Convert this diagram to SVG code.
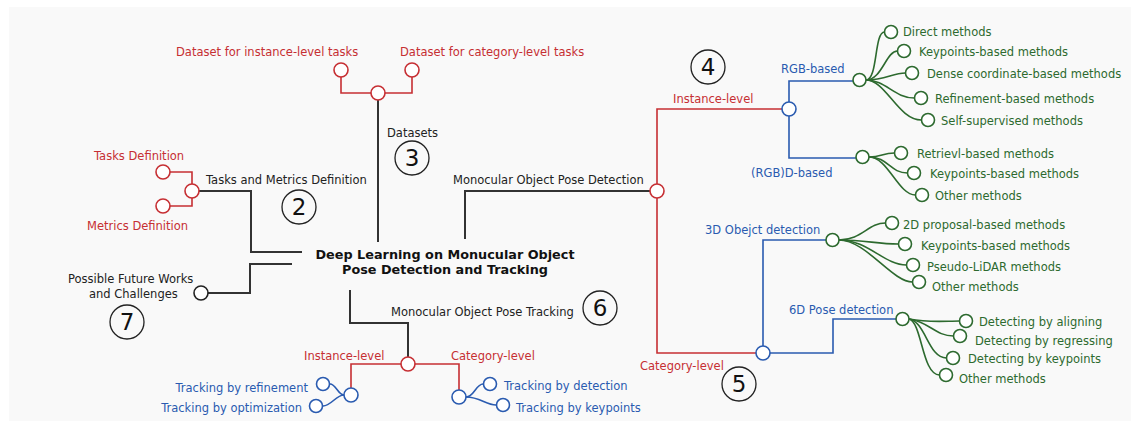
<svg xmlns="http://www.w3.org/2000/svg" width="1136" height="427" viewBox="0 0 1136 427">
<defs>
<style>
text{font-family:"DejaVu Sans","Liberation Sans",sans-serif;font-size:11.5px}
.k{fill:#222}.r{fill:#c62f33}.b{fill:#2a5bb0}.g{fill:#2d6a2f}
.title{font-weight:bold;font-size:12.8px;fill:#111;text-anchor:middle}
.num{font-size:23px;fill:#111;text-anchor:middle}
.nc{fill:none;stroke:#222;stroke-width:1.3}
.n{fill:#fff;stroke-width:1.6}
.nr{stroke:#c62f33}.nb{stroke:#2a5bb0}.ng{stroke:#2d6a2f}.nk{stroke:#222}
.lk{fill:none;stroke:#333;stroke-width:2}
.lr{fill:none;stroke:#c62f33;stroke-width:1.6}
.lb{fill:none;stroke:#2a5bb0;stroke-width:1.6}
.lg{fill:none;stroke:#2d6a2f;stroke-width:1.6}
.end{text-anchor:end}
</style>
</defs>
<rect x="9" y="7" width="1122" height="414" fill="#f9f9f9"/>

<g id="connectors">
<path class="lk" d="M378 242 V100"/>
<path class="lk" d="M199 191 H251 V252 H302"/>
<path class="lk" d="M208 293 H250 V264 H292"/>
<path class="lk" d="M465 239 V191 H650"/>
<path class="lk" d="M350 290 V323 H408 V357"/>
<path class="lr" d="M341 77 V93 H371 M385 93 H412 V77"/>
<path class="lr" d="M170 172 H192 V184 M192 198 V206 H170"/>
<path class="lr" d="M657 184 V109 H782"/>
<path class="lr" d="M657 198 V353 H756"/>
<path class="lb" d="M789 102 V81 H853"/>
<path class="lb" d="M789 116 V158 H856"/>
<path class="lb" d="M763 346 V240 H826"/>
<path class="lb" d="M770 353 H833 V319 H896"/>
<path class="lg" d="M866 80 C878 80 874 32 884.5 32"/>
<path class="lg" d="M866 80 C882 80 886 51 897.5 51"/>
<path class="lg" d="M866 80 C886 80 892 73 905.5 73"/>
<path class="lg" d="M866 80 C886 80 894 98 914.5 98"/>
<path class="lg" d="M866 80 C886 80 898 120 921.5 120"/>
<path class="lg" d="M869 157 C882 157 882 153 894.5 153"/>
<path class="lg" d="M869 157 C888 157 890 173 907.5 173"/>
<path class="lg" d="M869 157 C888 157 898 195 915.5 195"/>
<path class="lg" d="M839 240 C862 240 868 223 885.5 223"/>
<path class="lg" d="M839 240 C866 240 876 244 898.5 244"/>
<path class="lg" d="M839 240 C868 240 884 265 906.5 265"/>
<path class="lg" d="M839 240 C866 240 892 282 912.5 282"/>
<path class="lg" d="M909 319 C930 323 945 321 959.5 321"/>
<path class="lg" d="M909 319 C930 322 935 336 953.5 336"/>
<path class="lg" d="M909 319 C926 322 928 358 946.5 358"/>
<path class="lg" d="M909 319 C922 322 922 375 939.5 375"/>
<path class="lr" d="M401 364 H351 V388"/>
<path class="lr" d="M415 364 H459 V390"/>
<path class="lb" d="M344 395 C338 395 336 384 330 384"/>
<path class="lb" d="M344 395 C336 395 331 406 323 406"/>
<path class="lb" d="M466 397 C474 397 476 384 483 384"/>
<path class="lb" d="M466 397 C480 397 486 405 496 405"/>
</g>

<g id="root">
<text class="title" x="445" y="259">Deep Learning on Monucular Object</text>
<text class="title" x="445" y="274">Pose Detection and Tracking</text>
</g>

<g id="datasets">
<circle class="n nr" cx="378" cy="93" r="7"/>
<text class="k" x="387" y="137">Datasets</text>
<circle class="nc" cx="412" cy="158" r="17"/><text class="num" x="412" y="166">3</text>
</g>
<g id="ds-instance">
<circle class="n nr" cx="341" cy="70" r="7"/>
<text class="r" x="176" y="56">Dataset for instance-level tasks</text>
</g>
<g id="ds-category">
<circle class="n nr" cx="412" cy="70" r="7"/>
<text class="r" x="400" y="56">Dataset for category-level tasks</text>
</g>

<g id="tasks-metrics">
<circle class="n nr" cx="192" cy="191" r="7"/>
<text class="k" x="206" y="184">Tasks and Metrics Definition</text>
<circle class="nc" cx="299" cy="207" r="17"/><text class="num" x="299" y="215">2</text>
</g>
<g id="tasks-def">
<circle class="n nr" cx="163" cy="172" r="7"/>
<text class="r" x="94" y="160">Tasks Definition</text>
</g>
<g id="metrics-def">
<circle class="n nr" cx="163" cy="206" r="7"/>
<text class="r" x="87" y="230">Metrics Definition</text>
</g>

<g id="future">
<circle class="n nk" cx="201" cy="293" r="7"/>
<text class="k" x="68" y="283">Possible Future Works</text>
<text class="k" x="89" y="298">and Challenges</text>
<circle class="nc" cx="127" cy="322" r="17"/><text class="num" x="127" y="330">7</text>
</g>

<g id="detection">
<circle class="n nr" cx="657" cy="191" r="7"/>
<text class="k" x="453" y="184">Monocular Object Pose Detection</text>
</g>
<g id="det-instance">
<circle class="n nb" cx="789" cy="109" r="7"/>
<text class="r" x="673" y="103">Instance-level</text>
<circle class="nc" cx="708" cy="67" r="17"/><text class="num" x="708" y="75">4</text>
</g>
<g id="rgb">
<circle class="n ng" cx="859.5" cy="80" r="6.5"/>
<text class="b" x="781" y="73">RGB-based</text>
</g>
<g id="rgb-leaves">
<circle class="n ng" cx="891" cy="32" r="6.5"/><text class="g" x="903" y="36">Direct methods</text>
<circle class="n ng" cx="904" cy="51" r="6.5"/><text class="g" x="919" y="56">Keypoints-based methods</text>
<circle class="n ng" cx="912" cy="73" r="6.5"/><text class="g" x="927" y="78">Dense coordinate-based methods</text>
<circle class="n ng" cx="921" cy="98" r="6.5"/><text class="g" x="935" y="103">Refinement-based methods</text>
<circle class="n ng" cx="928" cy="120" r="6.5"/><text class="g" x="941" y="125">Self-supervised methods</text>
</g>
<g id="rgbd">
<circle class="n ng" cx="862.5" cy="157" r="6.5"/>
<text class="b" x="751" y="177">(RGB)D-based</text>
</g>
<g id="rgbd-leaves">
<circle class="n ng" cx="901" cy="153" r="6.5"/><text class="g" x="917" y="158">Retrievl-based methods</text>
<circle class="n ng" cx="914" cy="173" r="6.5"/><text class="g" x="930" y="178">Keypoints-based methods</text>
<circle class="n ng" cx="922" cy="195" r="6.5"/><text class="g" x="935" y="200">Other methods</text>
</g>

<g id="det-category">
<circle class="n nb" cx="763" cy="353" r="7"/>
<text class="r" x="640" y="370">Category-level</text>
<circle class="nc" cx="739" cy="384" r="17"/><text class="num" x="739" y="392">5</text>
</g>
<g id="obj3d">
<circle class="n ng" cx="832.5" cy="240" r="6.5"/>
<text class="b" x="705" y="234">3D Obejct detection</text>
</g>
<g id="obj3d-leaves">
<circle class="n ng" cx="892" cy="223" r="6.5"/><text class="g" x="903" y="229">2D proposal-based methods</text>
<circle class="n ng" cx="905" cy="244" r="6.5"/><text class="g" x="921" y="250">Keypoints-based methods</text>
<circle class="n ng" cx="913" cy="265" r="6.5"/><text class="g" x="927" y="271">Pseudo-LiDAR methods</text>
<circle class="n ng" cx="919" cy="282" r="6.5"/><text class="g" x="932" y="291">Other methods</text>
</g>
<g id="pose6d">
<circle class="n ng" cx="902.5" cy="319" r="6.5"/>
<text class="b" x="789" y="314">6D Pose detection</text>
</g>
<g id="pose6d-leaves">
<circle class="n ng" cx="966" cy="321" r="6.5"/><text class="g" x="979" y="326">Detecting by aligning</text>
<circle class="n ng" cx="960" cy="336" r="6.5"/><text class="g" x="975" y="345">Detecting by regressing</text>
<circle class="n ng" cx="953" cy="358" r="6.5"/><text class="g" x="968" y="363">Detecting by keypoints</text>
<circle class="n ng" cx="946" cy="375" r="6.5"/><text class="g" x="959" y="383">Other methods</text>
</g>

<g id="tracking">
<circle class="n nr" cx="408" cy="364" r="7"/>
<text class="k" x="391" y="316">Monocular Object Pose Tracking</text>
<circle class="nc" cx="600" cy="308" r="17"/><text class="num" x="600" y="316">6</text>
</g>
<g id="trk-instance">
<circle class="n nb" cx="351" cy="395" r="7"/>
<text class="r" x="304" y="360">Instance-level</text>
</g>
<g id="trk-instance-leaves">
<circle class="n nb" cx="323" cy="384" r="6.5"/><text class="b end" x="308" y="392">Tracking by refinement</text>
<circle class="n nb" cx="316" cy="406" r="6.5"/><text class="b end" x="302" y="412">Tracking by optimization</text>
</g>
<g id="trk-category">
<circle class="n nb" cx="459" cy="397" r="7"/>
<text class="r" x="451" y="360">Category-level</text>
</g>
<g id="trk-category-leaves">
<circle class="n nb" cx="490" cy="384" r="6.5"/><text class="b" x="504" y="390">Tracking by detection</text>
<circle class="n nb" cx="503" cy="405" r="6.5"/><text class="b" x="516" y="412">Tracking by keypoints</text>
</g>
</svg>
